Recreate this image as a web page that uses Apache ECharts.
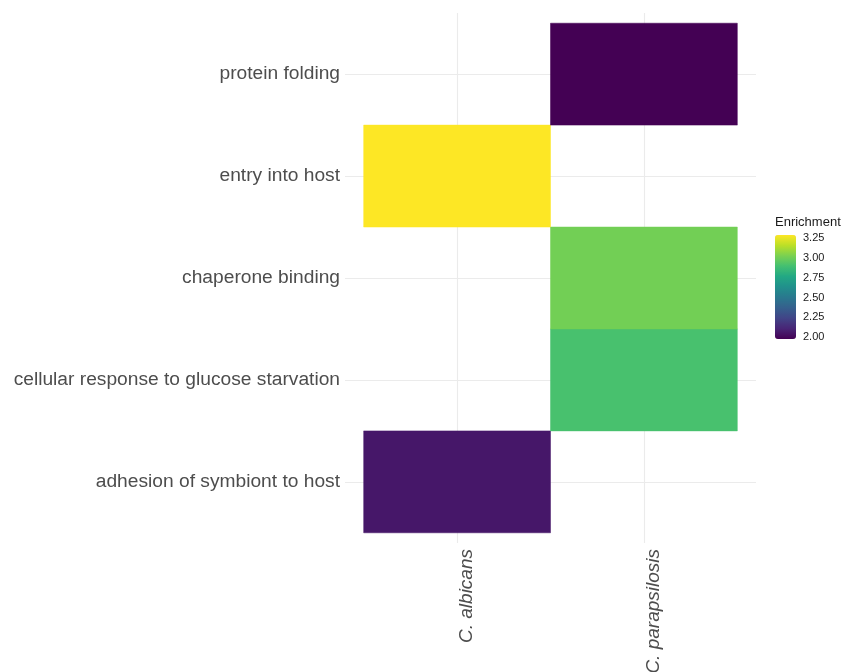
<!DOCTYPE html>
<html>
<head>
<meta charset="utf-8">
<script src="https://cdn.jsdelivr.net/npm/echarts@6/dist/echarts.min.js"></script>
<style>
  html, body { margin: 0; padding: 0; background: #ffffff; }
  #chart { width: 843px; height: 672px; }
</style>
</head>
<body>
<div id="chart"></div>
<script>
// GO terms (bottom to top) and species
const terms = [
  'adhesion of symbiont to host',
  'cellular response to glucose starvation',
  'chaperone binding',
  'entry into host',
  'protein folding'
];
const species = ['C. albicans', 'C. parapsilosis'];

// Enriched cells: [species index, term index, enrichment]
const cellSpecies = [0, 1, 1, 0, 1];
const cellTerms   = [0, 1, 2, 3, 4];
const enrichment  = [2.06, 2.91, 3.01, 3.29, 1.98];

// Colour bar ticks
const legendTicks = [2.00, 2.25, 2.50, 2.75, 3.00, 3.25];

const viridis = ['#440154', '#482576', '#414487', '#35608D', '#2A788E',
                 '#21908C', '#22A884', '#43BF71', '#7AD151', '#BBDF27', '#FDE725'];

const encMin = Math.min(...enrichment);
const encMax = Math.max(...enrichment);

const cells = cellSpecies.map((s, i) => [s, cellTerms[i], enrichment[i]]);

const textCol = '#4D4D4D';
const gridCol = '#EBEBEB';
const font = 'Liberation Sans, Arial, sans-serif';

const chart = echarts.init(document.getElementById('chart'));
chart.setOption({
  backgroundColor: '#ffffff',
  animation: false,
  grid: [
    { left: 345, right: 87, top: 13, bottom: 129, outerBoundsMode: 'none', containLabel: false },
    { left: 775, width: 21, top: 235, height: 104, outerBoundsMode: 'none', containLabel: false }
  ],
  xAxis: [
    {
      type: 'value', gridIndex: 0, min: -0.6, max: species.length - 0.4,
      axisLine: { show: false },
      axisTick: { show: false, customValues: species.map((_, i) => i) },
      splitLine: { show: true, lineStyle: { color: gridCol, width: 1.1 } },
      axisLabel: {
        customValues: species.map((_, i) => i),
        formatter: v => species[Math.round(v)] || '',
        rotate: 90, fontSize: 19, fontStyle: 'italic', color: textCol,
        verticalAlign: 'top',
        fontFamily: font, margin: 6
      }
    },
    { type: 'value', gridIndex: 1, show: false, min: 0, max: 1 }
  ],
  yAxis: [
    {
      type: 'value', gridIndex: 0, min: -0.6, max: terms.length - 0.4,
      axisLine: { show: false },
      axisTick: { show: false, customValues: terms.map((_, i) => i) },
      splitLine: { show: true, lineStyle: { color: gridCol, width: 1.1 } },
      axisLabel: {
        customValues: terms.map((_, i) => i),
        formatter: v => terms[Math.round(v)] || '',
        fontSize: 19.2, color: textCol,
        fontFamily: font, margin: 5
      }
    },
    {
      type: 'value', gridIndex: 1, position: 'right',
      min: 2.00 - 1.7 / 79.4, max: 3.25 + 3 / 79.4,
      axisLine: { show: false },
      splitLine: { show: false },
      axisTick: { show: true, inside: true, length: 4, customValues: legendTicks,
                  lineStyle: { color: 'rgba(255,255,255,0.8)', width: 1 } },
      axisLabel: { customValues: legendTicks, formatter: v => v.toFixed(2),
                   fontSize: 11, color: '#1a1a1a', margin: 7, fontFamily: font }
    },
    {
      type: 'value', gridIndex: 1, position: 'left',
      min: 2.00 - 1.7 / 79.4, max: 3.25 + 3 / 79.4,
      axisLine: { show: false },
      splitLine: { show: false },
      axisTick: { show: true, inside: true, length: 4, customValues: legendTicks,
                  lineStyle: { color: 'rgba(255,255,255,0.8)', width: 1 } },
      axisLabel: { show: false }
    }
  ],
  visualMap: {
    type: 'continuous',
    seriesIndex: 0,
    dimension: 2,
    min: encMin, max: encMax,
    calculable: false,
    left: 775, top: 235, itemWidth: 21, itemHeight: 104,
    padding: 0,
    inRange: { color: viridis },
    text: null,
    showLabel: false,
    hoverLink: false,
    z: 1
  },
  title: {
    text: 'Enrichment', left: 775, top: 216, padding: 0,
    textStyle: { fontSize: 13, fontWeight: 'normal', color: '#1a1a1a', fontFamily: font }
  },
  series: [
    {
      type: 'custom',
      xAxisIndex: 0, yAxisIndex: 0,
      data: cells,
      encode: { x: 0, y: 1 },
      renderItem: function (params, api) {
        const x = api.value(0), y = api.value(1);
        const p0 = api.coord([x - 0.5, y + 0.5]);
        const p1 = api.coord([x + 0.5, y - 0.5]);
        return {
          type: 'rect',
          shape: { x: p0[0], y: p0[1], width: p1[0] - p0[0], height: p1[1] - p0[1] },
          style: { fill: api.visual('color'), stroke: api.visual('color'), lineWidth: 0.5 }
        };
      },
      z: 2
    },
    {
      // empty series so the colour-bar axes are laid out
      type: 'line', xAxisIndex: 1, yAxisIndex: 1, data: [], z: 10
    }
  ]
});
</script>
</body>
</html>
